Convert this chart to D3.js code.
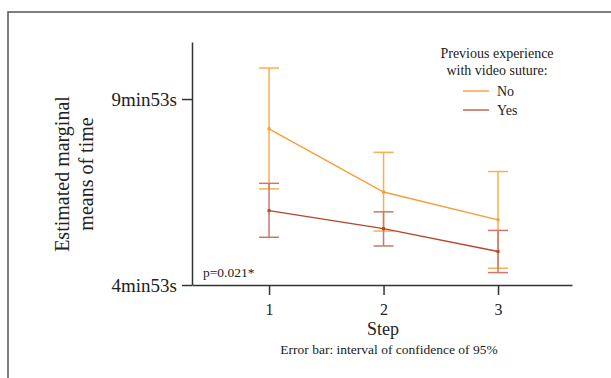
<!DOCTYPE html>
<html><head><meta charset="utf-8">
<script src="https://cdn.jsdelivr.net/npm/d3@7"></script>
<style>body{margin:0;background:#fff}svg{display:block}text{font-family:"Liberation Serif","Times New Roman",serif;fill:#222}</style>
</head><body>
<svg id="c" width="611" height="378"></svg>
<script>
const steps = [1, 2, 3];
const seriesNames = ["No", "Yes"];
// seconds
const meanNo = [545, 443, 398];
const lowNo = [448, 380, 320];
const highNo = [643, 507, 476];
const meanYes = [413, 384, 347];
const lowYes = [370, 356, 313];
const highYes = [457, 411, 381];
const yTickValues = [293, 593];
const yTickLabels = ["4min53s", "9min53s"];

const colors = {No: "#f99d35", Yes: "#b3472a"};
const errColors = {No: "#f9b14f", Yes: "#cc7767"};

const svg = d3.select("#c");
svg.append("rect").attr("x", 8).attr("y", 12).attr("width", 700).attr("height", 500)
  .attr("fill", "none").attr("stroke", "#555").attr("stroke-width", 1.5);

const x = d3.scaleLinear().domain([0.327, 3.646]).range([192, 572]);
const y = d3.scaleLinear().domain([293, 685]).range([285, 42]);

const yAxis = d3.axisLeft(y).tickValues(yTickValues).tickFormat((d, i) => yTickLabels[i])
  .tickSize(10).tickSizeOuter(0).tickPadding(5);
const gy = svg.append("g").attr("transform", "translate(192,0)").call(yAxis);
gy.selectAll("text").style("font-size", "19px").attr("fill", "#222");

const xAxis = d3.axisBottom(x).tickValues(steps).tickFormat(d3.format("d")).tickSize(10).tickSizeOuter(0).tickPadding(9);
const gx = svg.append("g").attr("transform", "translate(0,285)").call(xAxis);
gx.selectAll("text").style("font-size", "16px").attr("fill", "#222");
[gx, gy].forEach(g => { g.select(".domain").attr("stroke", "#333").attr("stroke-width", 1.5);
  g.selectAll(".tick line").attr("stroke", "#333").attr("stroke-width", 1.5); });

const data = [
  {name: "No", mean: meanNo, low: lowNo, high: highNo},
  {name: "Yes", mean: meanYes, low: lowYes, high: highYes}
];
const line = d3.line().x((d, i) => x(steps[i])).y(d => y(d));
data.forEach(s => {
  const g = svg.append("g");
  steps.forEach((st, i) => {
    const cx = x(st);
    g.append("line").attr("x1", cx).attr("x2", cx).attr("y1", y(s.low[i])).attr("y2", y(s.high[i]))
      .attr("stroke", errColors[s.name]).attr("stroke-width", 1.5);
    [s.low[i], s.high[i]].forEach(v => g.append("line").attr("x1", cx - 10).attr("x2", cx + 10)
      .attr("y1", y(v)).attr("y2", y(v)).attr("stroke", errColors[s.name]).attr("stroke-width", 1.5));
  });
  g.append("path").attr("d", line(s.mean)).attr("fill", "none").attr("stroke", colors[s.name]).attr("stroke-width", 1.4);
  g.selectAll("rect.m").data(s.mean).enter().append("rect")
    .attr("x", (d, i) => x(steps[i]) - 1.5).attr("y", d => y(d) - 1.5).attr("width", 3).attr("height", 3)
    .attr("fill", colors[s.name]);
});

// axis titles
const yt = svg.append("text").attr("transform", "rotate(-90)").attr("text-anchor", "middle").style("font-size", "20px");
yt.append("tspan").attr("x", -174).attr("y", 69).text("Estimated marginal");
yt.append("tspan").attr("x", -174).attr("y", 93).text("means of time");
svg.append("text").attr("x", 383).attr("y", 335).attr("text-anchor", "middle").style("font-size", "18px").text("Step");
svg.append("text").attr("x", 389).attr("y", 354).attr("text-anchor", "middle").style("font-size", "13.5px").text("Error bar: interval of confidence of 95%");
svg.append("text").attr("x", 203).attr("y", 277).style("font-size", "13.5px").text("p=0.021*");

// legend
svg.append("text").attr("x", 497).attr("y", 58).attr("text-anchor", "middle").style("font-size", "14px").text("Previous experience");
svg.append("text").attr("x", 497).attr("y", 75).attr("text-anchor", "middle").style("font-size", "14px").text("with video suture:");
const legendColors = {No: "#f9a24a", Yes: "#c4694f"};
seriesNames.forEach((n, i) => {
  const ly = 91 + i * 19;
  svg.append("line").attr("x1", 463).attr("x2", 489).attr("y1", ly).attr("y2", ly).attr("stroke", legendColors[n]).attr("stroke-width", 1.5);
  svg.append("text").attr("x", 497).attr("y", ly + 5).style("font-size", "14px").text(n);
});
</script>
</body></html>
